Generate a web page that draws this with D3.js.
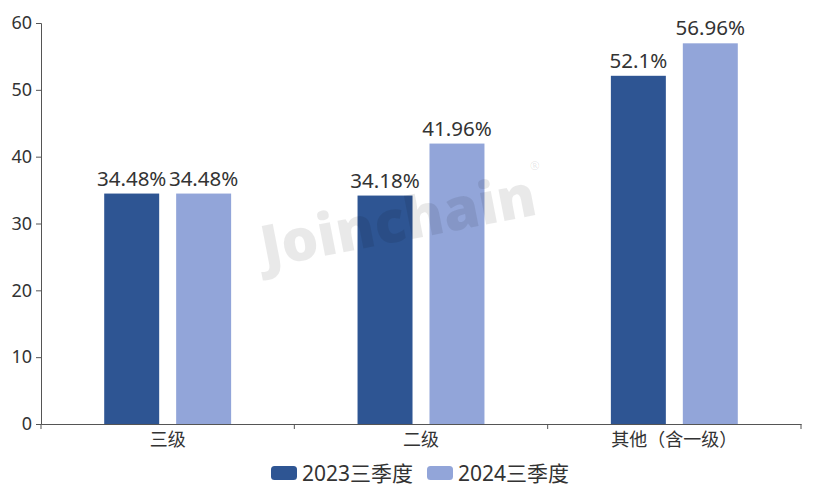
<!DOCTYPE html>
<html><head><meta charset="utf-8">
<script src="https://cdn.jsdelivr.net/npm/d3@7/dist/d3.min.js"></script>
<style>body{margin:0;background:#fff}svg{display:block}</style>
</head><body><svg id="c" width="817" height="498"></svg>
<script>
const categories = ["三级", "二级", "其他（含一级）"];
const seriesNames = ["2023三季度", "2024三季度"];
const values2023 = [34.48, 34.18, 52.1];
const values2024 = [34.48, 41.96, 56.96];
const yTicks = [0, 10, 20, 30, 40, 50, 60];
const colors = ["#2e5593", "#92a5d9"];

const svg = d3.select("#c");
const font = "'Noto Sans','Noto Sans CJK SC',sans-serif";
const m = {l: 41, r: 16, t: 23, b: 74};
const W = 817, H = 498;
const x = d3.scaleBand().domain(categories).range([m.l, W - m.r]);
const y = d3.scaleLinear().domain([0, 60]).range([H - m.b, m.t]);
const barW = x.bandwidth() * 0.217;
const gap = x.bandwidth() * 0.067;

// watermark (behind? it appears over bars; draw last)
// axes
const yAxis = svg.append("g").attr("transform", `translate(${m.l},0)`)
  .call(d3.axisLeft(y).tickValues(yTicks).tickSize(5).tickPadding(4));
yAxis.select(".domain").attr("stroke", "#555");
yAxis.selectAll(".tick line").attr("stroke", "#555");
yAxis.selectAll("text").attr("font-family", font).attr("font-size", 18).attr("fill", "#333");

const xAxis = svg.append("g").attr("transform", `translate(0,${y(0)})`)
  .call(d3.axisBottom(x).tickSize(0).tickPadding(8));
xAxis.select(".domain").attr("stroke", "#555");
xAxis.selectAll("text").attr("font-family", font).attr("font-size", 18).attr("fill", "#333").attr("dy", "0.75em");
const bounds = categories.map(c => x(c)).concat([x(categories[categories.length - 1]) + x.bandwidth()]);
xAxis.selectAll(".bt").data(bounds).enter().append("line")
  .attr("x1", d => d).attr("x2", d => d).attr("y1", 0).attr("y2", 5).attr("stroke", "#555");

const series = [values2023, values2024];
series.forEach((vals, si) => {
  const g = svg.append("g");
  const xpos = (c) => x(c) + x.bandwidth() / 2 + (si === 0 ? -gap / 2 - barW : gap / 2);
  g.selectAll("rect").data(categories).enter().append("rect")
    .attr("x", c => xpos(c)).attr("width", barW)
    .attr("y", (c, i) => y(vals[i])).attr("height", (c, i) => y(0) - y(vals[i]))
    .attr("fill", colors[si]);
  g.selectAll("text").data(categories).enter().append("text")
    .attr("x", c => xpos(c) + barW / 2).attr("y", (c, i) => y(vals[i]) - 8)
    .attr("text-anchor", "middle").attr("font-family", font).attr("font-size", 20.5).attr("fill", "#333")
    .text((c, i) => vals[i] + "%");
});

// legend
const leg = svg.append("g").attr("transform", "translate(271,466)");
const legX = [0, 156];
seriesNames.forEach((n, i) => {
  leg.append("rect").attr("x", legX[i]).attr("y", 0).attr("width", 26).attr("height", 14).attr("rx", 3.5).attr("fill", colors[i]);
  leg.append("text").attr("x", legX[i] + 31).attr("y", 7).attr("dy", "0.36em")
    .attr("font-family", font).attr("font-size", 21).attr("fill", "#333").text(n);
});

// watermark
const wm = svg.append("g").attr("transform", "translate(398,221) rotate(-11)");
wm.append("text").attr("text-anchor", "middle").attr("dy", "0.35em")
  .attr("font-family", "'Open Sans','DejaVu Sans',sans-serif").attr("font-weight", 800)
  .attr("font-size", 58).attr("fill", "rgba(0,0,0,0.085)").text("Joinchain");
wm.append("text").attr("x", 145).attr("y", -24).attr("text-anchor", "middle")
  .attr("font-family", font).attr("font-size", 12).attr("fill", "rgba(0,0,0,0.1)").text("®");
</script></body></html>
